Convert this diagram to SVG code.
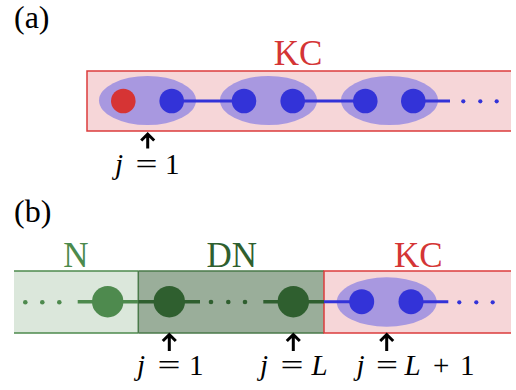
<svg xmlns="http://www.w3.org/2000/svg" width="516" height="390" viewBox="0 0 516 390">
<style>
text{font-family:"Liberation Serif","Times New Roman",serif;}
.lbl{font-size:32px;fill:#000;}
.kc{font-size:35px;fill:#d43535;text-anchor:middle;}
.ng{font-size:35px;fill:#4c8a4c;text-anchor:middle;}
.dng{font-size:35px;fill:#2f5f2f;text-anchor:middle;}
.m{font-size:29px;fill:#000;}
.i{font-style:italic;}
.kcbox{fill:#f6d6d8;}
.kcedge{stroke:#dc3c3c;stroke-width:1.5;fill:none;}
.cell{fill:#a898e0;}
.blue{fill:#3333d8;}
.red{fill:#d63434;}
.bl{stroke:#3333d8;stroke-width:3;}
.gm{stroke:#4e8a4e;stroke-width:3.5;}
.gd{stroke:#2f5f2f;stroke-width:3.5;}
.arr{stroke:#000;stroke-width:3;fill:none;}
</style>

<!-- panel labels -->
<text class="lbl" x="14" y="28">(a)</text>
<text class="lbl" x="14" y="221.5">(b)</text>

<!-- Panel (a) -->
<g id="a-kc-region">
  <rect class="kcbox" x="87" y="71" width="424" height="60"/>
  <path class="kcedge" d="M511,71 H87 V131 H511"/>
  <text class="kc" x="298" y="65">KC</text>
</g>
<g id="a-cells">
  <ellipse class="cell" cx="147.5" cy="100.5" rx="48.5" ry="24.5"/>
  <ellipse class="cell" cx="268.5" cy="100.5" rx="48.5" ry="24.5"/>
  <ellipse class="cell" cx="389.5" cy="100.5" rx="48.5" ry="24.5"/>
</g>
<g id="connectors-a">
  <line class="bl" x1="171.7" y1="101" x2="244" y2="101"/>
  <line class="bl" x1="292.7" y1="101" x2="365.3" y2="101"/>
  <line class="bl" x1="413.3" y1="101" x2="450" y2="101"/>
  <circle class="blue" cx="463.3" cy="101.3" r="2.1"/>
  <circle class="blue" cx="480.3" cy="101.3" r="2.1"/>
  <circle class="blue" cx="496.7" cy="101.3" r="2.1"/>
</g>
<g id="a-site-0"><circle class="red" cx="123.3" cy="101" r="12.3"/></g>
<g id="a-site-1"><circle class="blue" cx="171.7" cy="101" r="12.3"/></g>
<g id="a-site-2"><circle class="blue" cx="244" cy="101" r="12.3"/></g>
<g id="a-site-3"><circle class="blue" cx="292.7" cy="101" r="12.3"/></g>
<g id="a-site-4"><circle class="blue" cx="365.3" cy="101" r="12.3"/></g>
<g id="a-site-5"><circle class="blue" cx="413.3" cy="101" r="12.3"/></g>
<g id="a-pointer">
  <path class="arr" d="M147.7,148.5 V134.5 M141.2,140.5 L147.7,134 L154.2,140.5"/>
  <text class="m i" x="115" y="174">j</text>
  <text class="m" x="135.5" y="174" textLength="22" lengthAdjust="spacingAndGlyphs">=</text>
  <text class="m" x="165" y="174">1</text>
</g>

<!-- Panel (b) -->
<g id="b-n-region">
  <rect x="14" y="271" width="124.3" height="62" fill="#dbe7db"/>
  <path d="M14,271 H138.3 M14,333 H138.3" stroke="#4e8a4e" stroke-width="1.5" fill="none"/>
  <text class="ng" x="76" y="267.3">N</text>
</g>
<g id="b-dn-region">
  <rect x="138.3" y="271" width="185.7" height="62" fill="#9aae9a"/>
  <path d="M138.3,271 H324 M138.3,333 H324 M138.3,271 V333" stroke="#4a7a4a" stroke-width="1.5" fill="none"/>
  <text class="dng" x="231.7" y="267.3">DN</text>
</g>
<g id="b-kc-region">
  <rect class="kcbox" x="324" y="271" width="187" height="62"/>
  <path class="kcedge" d="M511,271 H324 V333 H511"/>
  <text class="kc" x="418.3" y="267.3">KC</text>
</g>
<g id="b-cell">
  <ellipse class="cell" cx="386.7" cy="302" rx="50" ry="24.7"/>
</g>
<g id="connectors-b">
  <circle cx="25.3" cy="302.3" r="2.3" fill="#4e8a4e"/>
  <circle cx="42.3" cy="302.3" r="2.3" fill="#4e8a4e"/>
  <circle cx="59.3" cy="302.3" r="2.3" fill="#4e8a4e"/>
  <line class="gm" x1="77.7" y1="301.7" x2="138.3" y2="301.7"/>
  <line class="gd" x1="138.3" y1="301.7" x2="200" y2="301.7"/>
  <circle cx="211" cy="302" r="2.3" fill="#2f5f2f"/>
  <circle cx="228.3" cy="302" r="2.3" fill="#2f5f2f"/>
  <circle cx="245" cy="302" r="2.3" fill="#2f5f2f"/>
  <line class="gd" x1="263.3" y1="301.7" x2="324" y2="301.7"/>
  <line class="bl" x1="324" y1="301.7" x2="361.7" y2="301.7"/>
  <line class="bl" x1="411" y1="301.7" x2="448.3" y2="301.7"/>
  <circle class="blue" cx="459.3" cy="302.3" r="2.1"/>
  <circle class="blue" cx="476.3" cy="302.3" r="2.1"/>
  <circle class="blue" cx="492.7" cy="302.3" r="2.1"/>
</g>
<g id="b-n-site"><circle cx="107.7" cy="301.7" r="15.7" fill="#4e8a4e"/></g>
<g id="b-dn-site-1"><circle cx="169.3" cy="301.7" r="15.7" fill="#2f5f2f"/></g>
<g id="b-dn-site-L"><circle cx="293.3" cy="301.7" r="15.7" fill="#2f5f2f"/></g>
<g id="b-kc-site-1"><circle class="blue" cx="361.7" cy="301.7" r="12.5"/></g>
<g id="b-kc-site-2"><circle class="blue" cx="411" cy="301.7" r="12.5"/></g>

<g id="b-pointer-1">
  <path class="arr" d="M169.3,351 V335 M162.8,341 L169.3,334.5 L175.8,341"/>
  <text class="m i" x="137" y="375">j</text>
  <text class="m" x="157.5" y="375" textLength="23" lengthAdjust="spacingAndGlyphs">=</text>
  <text class="m" x="189" y="375">1</text>
</g>
<g id="b-pointer-L">
  <path class="arr" d="M293.3,351 V335 M286.8,341 L293.3,334.5 L299.8,341"/>
  <text class="m i" x="260" y="375">j</text>
  <text class="m" x="280.5" y="375" textLength="23" lengthAdjust="spacingAndGlyphs">=</text>
  <text class="m i" x="311.5" y="375">L</text>
</g>
<g id="b-pointer-L1">
  <path class="arr" d="M386.7,351 V335 M380.2,341 L386.7,334.5 L393.2,341"/>
  <text class="m i" x="356.5" y="375">j</text>
  <text class="m" x="376" y="375" textLength="22" lengthAdjust="spacingAndGlyphs">=</text>
  <text class="m i" x="404.5" y="375">L</text>
  <text class="m" x="433" y="375">+</text>
  <text class="m" x="460" y="375">1</text>
</g>
</svg>
